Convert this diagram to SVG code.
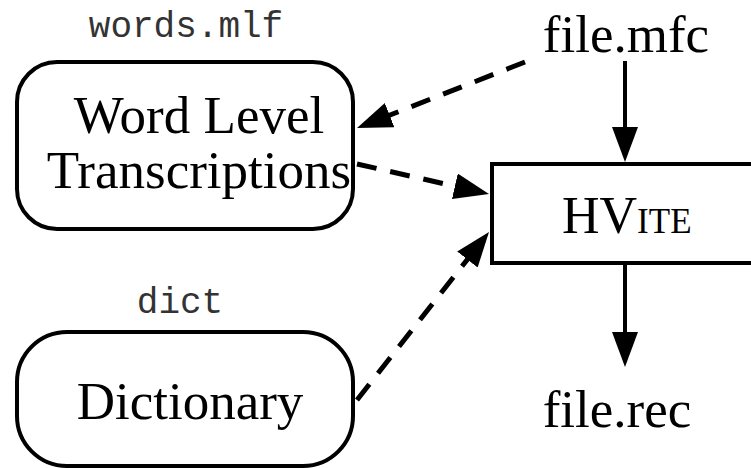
<svg xmlns="http://www.w3.org/2000/svg" width="751" height="468" viewBox="0 0 751 468">
<style>
.box{fill:#fff;stroke:#000;stroke-width:4}
.serif{font-family:"Liberation Serif","Times New Roman",serif;fill:#000}
.mono{font-family:"Liberation Mono","Courier New",monospace;fill:#333;font-size:36px}
.solid{stroke:#000;stroke-width:4;fill:none}
.dash{stroke:#000;stroke-width:5;fill:none;stroke-dasharray:20 14}
</style>
<defs>
<marker id="ah" markerUnits="userSpaceOnUse" markerWidth="36" markerHeight="28" refX="23" refY="13" orient="auto">
<path d="M0,0 L35,13 L0,26 z" fill="#000"/>
</marker>
</defs>
<rect width="751" height="468" fill="#fff"/>
<g id="connectors">
<line class="dash" x1="525" y1="62" x2="368.2" y2="123.6" marker-end="url(#ah)"/>
<line class="dash" x1="357" y1="164" x2="477.3" y2="191.3" marker-end="url(#ah)"/>
<line class="dash" x1="357" y1="400" x2="481.6" y2="241.4" marker-end="url(#ah)"/>
<line class="solid" x1="625" y1="61" x2="625" y2="150" marker-end="url(#ah)"/>
<line class="solid" x1="625" y1="265" x2="625" y2="355" marker-end="url(#ah)"/>
</g>
<g id="words">
<text class="mono" x="186" y="37" text-anchor="middle">words.mlf</text>
<rect class="box" x="17" y="62" width="336" height="167" rx="40"/>
<text class="serif" font-size="53" x="199" y="133" text-anchor="middle">Word Level</text>
<text class="serif" font-size="53" x="199" y="188" text-anchor="middle">Transcriptions</text>
</g>
<g id="dict">
<text class="mono" x="180" y="313" text-anchor="middle">dict</text>
<rect class="box" x="17" y="332" width="336" height="134" rx="50"/>
<text class="serif" font-size="53" x="190" y="419" text-anchor="middle">Dictionary</text>
</g>
<g id="mfc">
<text class="serif" font-size="53" x="626" y="52" text-anchor="middle">file.mfc</text>
</g>
<g id="hvite">
<rect class="box" x="492" y="164" width="300" height="99"/>
<text class="serif" font-size="52" x="562" y="233">HV<tspan font-size="35">ITE</tspan></text>
</g>
<g id="rec">
<text class="serif" font-size="53" x="617" y="427" text-anchor="middle">file.rec</text>
</g>
</svg>
